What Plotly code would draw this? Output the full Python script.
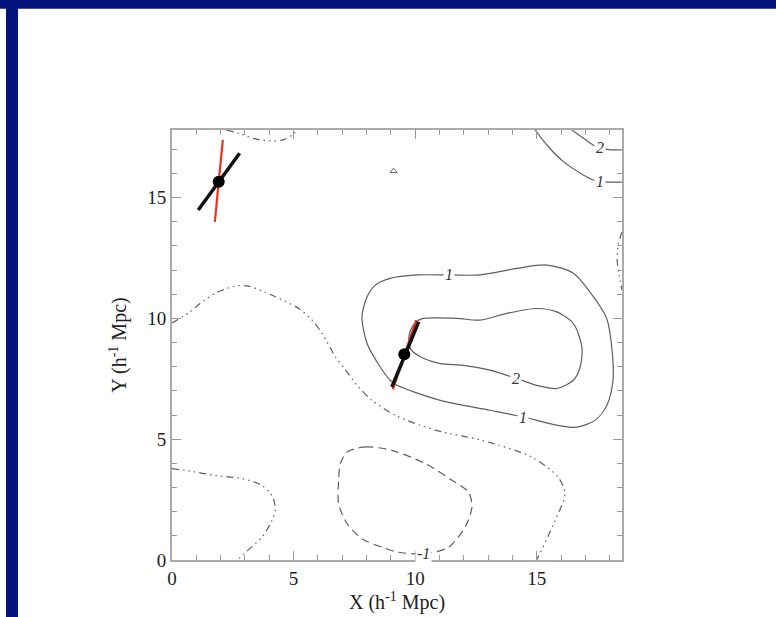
import plotly.graph_objects as go

# ---------------- data (data units h^-1 Mpc) ----------------
# zero-level contours (dash-dot-dot)
c0_top_x = [2.24, 2.81, 3.43, 4.05, 4.58, 4.95, 5.15]
c0_top_y = [17.8, 17.64, 17.43, 17.35, 17.39, 17.6, 17.8]

c0_main_x = [0, 0.68, 1.17, 1.79, 2.61, 3.14, 3.72, 4.25, 5.21, 5.76, 6.17, 6.72, 7.13, 7.67,
             8.22, 9.18, 10.2, 11.11, 12.75, 14.8, 15.87, 16.16, 15.75, 15.05, 14.97]
c0_main_y = [9.81, 10.23, 10.63, 11.05, 11.34, 11.34, 11.13, 10.9, 10.41, 9.93, 9.38, 8.41, 7.86, 7.16,
             6.61, 5.99, 5.58, 5.3, 4.95, 4.26, 3.43, 2.76, 1.64, 0.12, 0]

c0_low_x = [0, 0.55, 1.79, 2.88, 3.7, 4.11, 4.25, 4.11, 3.7, 2.81, 2.73]
c0_low_y = [3.78, 3.71, 3.5, 3.37, 3.09, 2.67, 2.12, 1.64, 0.95, 0.12, 0]

c0_right_x = [18.5, 18.34, 18.3, 18.38, 18.5]
c0_right_y = [13.58, 13.04, 12.42, 11.8, 11.17]

# level -1 contour (dashed)
cm1_x = [7.2, 7.95, 9.04, 10.41, 11.51, 12.19, 12.33, 12.05, 11.37, 10.41, 9.31, 8.63, 7.81, 7.2,
         6.85, 6.85, 6.92, 7.2]
cm1_y = [4.47, 4.68, 4.54, 3.99, 3.3, 2.81, 2.19, 1.36, 0.53, 0.26, 0.32, 0.53, 0.88, 1.5,
         2.33, 3.3, 3.99, 4.47]

# level 1 contours (solid)
c1_loop_x = [8.02, 8.36, 8.97, 10.07, 11.44, 12.67, 14.18, 15.41, 16.5, 17.32, 17.87, 18.09, 18.13,
             17.88, 17.39, 16.57, 15.82, 14.45, 13.08, 11.03, 9.25, 8.97, 8.56, 8.02, 7.81, 8.02]
c1_loop_y = [10.9, 11.38, 11.66, 11.8, 11.8, 11.8, 12.07, 12.21, 11.87, 10.9, 10.0, 8.69, 7.44,
             6.41, 5.78, 5.49, 5.58, 5.92, 6.2, 6.61, 7.23, 7.44, 7.99, 8.96, 10.07, 10.9]
c1_corner_x = [14.93, 15.41, 16.09, 16.91, 17.32, 17.6, 18.13, 18.51]
c1_corner_y = [17.8, 17.18, 16.49, 15.94, 15.73, 15.66, 15.64, 15.64]

# level 2 contours (solid)
c2_loop_x = [10.14, 10.34, 11.71, 12.67, 13.77, 15.0, 15.82, 16.5, 16.85, 16.78, 16.5, 15.82, 15.0,
             14.18, 13.08, 11.98, 11.03, 10.21, 9.79, 9.75, 9.92, 10.14]
c2_loop_y = [9.93, 10.0, 10.0, 9.93, 10.21, 10.41, 10.27, 9.79, 8.82, 7.99, 7.44, 7.1, 7.23,
             7.51, 7.86, 8.06, 8.13, 8.41, 8.77, 9.31, 9.72, 9.93]
c2_corner_x = [16.44, 16.9, 17.31, 17.6, 18.05, 18.51]
c2_corner_y = [17.8, 17.47, 17.18, 17.06, 16.98, 16.98]

# contour labels
label_text = ["1", "1", "2", "2", "1", "-1"]
label_x = [11.4, 14.44, 14.15, 17.6, 17.6, 10.33]
label_y = [11.8, 5.91, 7.53, 17.06, 15.66, 0.27]

# small triangle
tri_x = [9.11]
tri_y = [16.1]

# galaxies and their orientation bars
gal_x = [1.92, 9.55]
gal_y = [15.66, 8.52]
black_x0 = [1.08, 9.04]
black_y0 = [14.49, 7.16]
black_x1 = [2.78, 10.14]
black_y1 = [16.84, 9.86]
red_x0 = [1.76, 9.08]
red_y0 = [14.0, 7.06]
red_x1 = [2.09, 10.04]
red_y1 = [17.39, 9.93]

x_ticks = [0, 5, 10, 15]
y_ticks = [0, 5, 10, 15]

# ---------------- figure ----------------
W, H = 776, 617
L, R, T, B = 172, 154, 130, 57
PW, PH = W - L - R, H - T - B

GRAY = "#5f5f5f"
DDD = "7px,4px,1.5px,4px,1.5px,4px,1.5px,4px"

fig = go.Figure()

def line(x, y, dash="solid", width=1.2, color=GRAY):
    fig.add_trace(go.Scatter(x=x, y=y, mode="lines", line=dict(color=color, width=width, dash=dash,
                                                               shape="spline", smoothing=0.8),
                             hoverinfo="skip", showlegend=False))

for xs, ys in [(c0_top_x, c0_top_y), (c0_main_x, c0_main_y), (c0_low_x, c0_low_y), (c0_right_x, c0_right_y)]:
    line(xs, ys, dash=DDD)
line(cm1_x, cm1_y, dash="8px,5px")
for xs, ys in [(c1_loop_x, c1_loop_y), (c1_corner_x, c1_corner_y), (c2_loop_x, c2_loop_y), (c2_corner_x, c2_corner_y)]:
    line(xs, ys)

# triangle
fig.add_trace(go.Scatter(x=tri_x, y=tri_y, mode="markers",
                         marker=dict(symbol="triangle-up-open", size=6, color="#666", line=dict(width=1)),
                         hoverinfo="skip", showlegend=False))

# bars
for i in range(len(gal_x)):
    fig.add_trace(go.Scatter(x=[red_x0[i], red_x1[i]], y=[red_y0[i], red_y1[i]], mode="lines",
                             line=dict(color="#f2321e", width=2.2), hoverinfo="skip", showlegend=False))
    fig.add_trace(go.Scatter(x=[black_x0[i], black_x1[i]], y=[black_y0[i], black_y1[i]], mode="lines",
                             line=dict(color="#111111", width=3.5), hoverinfo="skip", showlegend=False))
fig.add_trace(go.Scatter(x=gal_x, y=gal_y, mode="markers",
                         marker=dict(symbol="circle", size=12, color="black"),
                         hoverinfo="skip", showlegend=False))

for t, x, y in zip(label_text, label_x, label_y):
    fig.add_annotation(x=x, y=y, text="<i>%s</i>" % t, showarrow=False,
                       font=dict(family="Liberation Serif", size=16, color="#333"),
                       bgcolor="white", borderpad=1)

axis_common = dict(
    showgrid=False, zeroline=False, showline=True, linecolor="#aaaaaa", linewidth=2, mirror="ticks",
    ticks="inside", ticklen=9, tickwidth=1, tickcolor="#999999",
    tickfont=dict(family="Liberation Serif", size=19, color="#222"),
    minor=dict(ticks="inside", ticklen=5, tickwidth=1, tickcolor="#999999", dtick=1, showgrid=False),
)

fig.update_layout(
    width=W, height=H, margin=dict(l=L, r=R, t=T, b=B, autoexpand=False),
    paper_bgcolor="white", plot_bgcolor="white",
    xaxis=dict(range=[0, 18.5], tickvals=x_ticks, ticktext=[str(v) for v in x_ticks],
               title=dict(text="X (h<sup>-1</sup> Mpc)", standoff=2,
                          font=dict(family="Liberation Serif", size=20, color="#222")),
               automargin=False, **axis_common),
    yaxis=dict(range=[0, 17.8], tickvals=y_ticks, ticktext=[str(v) for v in y_ticks],
               title=dict(text="Y (h<sup>-1</sup> Mpc)", standoff=15,
                          font=dict(family="Liberation Serif", size=20, color="#222")),
               automargin=False, **axis_common),
)

NAVY = "#02127a"
def px_x(p):
    return (p - L) / PW
def px_y(p):
    return (H - B - p) / PH

fig.add_shape(type="rect", xref="paper", yref="paper", x0=px_x(0), x1=px_x(W), y0=px_y(0), y1=px_y(8.7),
              fillcolor=NAVY, line=dict(width=0), layer="above")
fig.add_shape(type="rect", xref="paper", yref="paper", x0=px_x(6), x1=px_x(18), y0=px_y(0), y1=px_y(H),
              fillcolor=NAVY, line=dict(width=0), layer="above")

fig.write_html("out.html", config={"displayModeBar": False},
               post_script="document.body.style.margin='0';document.body.style.overflow='hidden';")
